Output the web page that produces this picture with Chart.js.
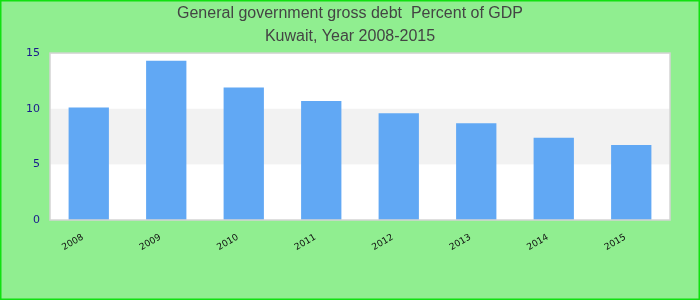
<!DOCTYPE html>
<html>
<head>
<meta charset="utf-8">
<script src="https://cdn.jsdelivr.net/npm/chart.js@4"></script>
<style>
  html, body { margin: 0; padding: 0; background: #90ee90; }
  #wrap { width: 700px; height: 300px; position: relative; }
</style>
</head>
<body>
<div id="wrap"><canvas id="debtChart" width="700" height="300"></canvas></div>
<script>
const years = ["2008","2009","2010","2011","2012","2013","2014","2015"];
const debtPct = [10.1, 14.3, 11.9, 10.7, 9.6, 8.7, 7.4, 6.75];
const yTicks = [0, 5, 10, 15];
const titleLines = ["General government gross debt  Percent of GDP", "Kuwait, Year 2008-2015"];

// white plot with a grey band between 5 and 10, green frame around the page
const backdrop = {
  id: "backdrop",
  beforeDraw(chart) {
    const { ctx, chartArea: a, scales } = chart;
    ctx.save();
    ctx.fillStyle = "#90ee90";
    ctx.fillRect(0, 0, chart.width, chart.height);
    ctx.strokeStyle = "#11e011";
    ctx.lineWidth = 3;
    ctx.strokeRect(0, 0, chart.width, chart.height);
    ctx.fillStyle = "#ffffff";
    ctx.fillRect(a.left, a.top, a.right - a.left, a.bottom - a.top);
    const y5 = scales.y.getPixelForValue(5), y10 = scales.y.getPixelForValue(10);
    ctx.fillStyle = "#f2f2f2";
    ctx.fillRect(a.left, y10, a.right - a.left, y5 - y10);
    ctx.restore();
  },
  afterDraw(chart) {
    const { ctx, chartArea: a } = chart;
    ctx.save();
    ctx.strokeStyle = "#d4d4d4";
    ctx.lineWidth = 1.5;
    ctx.strokeRect(a.left, a.top, a.right - a.left, a.bottom - a.top);
    ctx.restore();
  }
};

new Chart(document.getElementById("debtChart"), {
  type: "bar",
  data: {
    labels: years,
    datasets: [{ data: debtPct, backgroundColor: "#61a8f4", barPercentage: 0.52, categoryPercentage: 1 }]
  },
  options: {
    responsive: false,
    animation: false,
    layout: { padding: 0 },
    plugins: {
      legend: { display: false },
      tooltip: { enabled: false },
      title: {
        display: true,
        text: titleLines,
        color: "#444444",
        font: { family: "Liberation Sans", size: 16, weight: "normal", lineHeight: 1.44 },
        padding: { top: 2, bottom: 5 }
      }
    },
    scales: {
      x: {
        grid: { display: false, drawTicks: false },
        border: { display: false },
        ticks: { color: "#111111", font: { family: "DejaVu Sans", size: 9 }, minRotation: 30, maxRotation: 30, padding: 12, labelOffset: -6 },
        afterFit(s) { s.height = 80; }
      },
      y: {
        min: 0, max: 15,
        grid: { display: false, drawTicks: false },
        border: { display: false },
        afterBuildTicks(s) { s.ticks = yTicks.map(v => ({ value: v })); },
        ticks: { color: "#1a1a8c", font: { family: "DejaVu Sans", size: 11 }, padding: 10 },
        afterFit(s) { s.width = 50; }
      },
      // empty right-hand spacer so the plot ends where the reference does
      yRight: {
        position: "right",
        min: 0, max: 1,
        grid: { display: false, drawTicks: false },
        border: { display: false },
        ticks: { display: false },
        afterFit(s) { s.width = 30; }
      }
    }
  },
  plugins: [backdrop]
});
</script>
</body>
</html>
